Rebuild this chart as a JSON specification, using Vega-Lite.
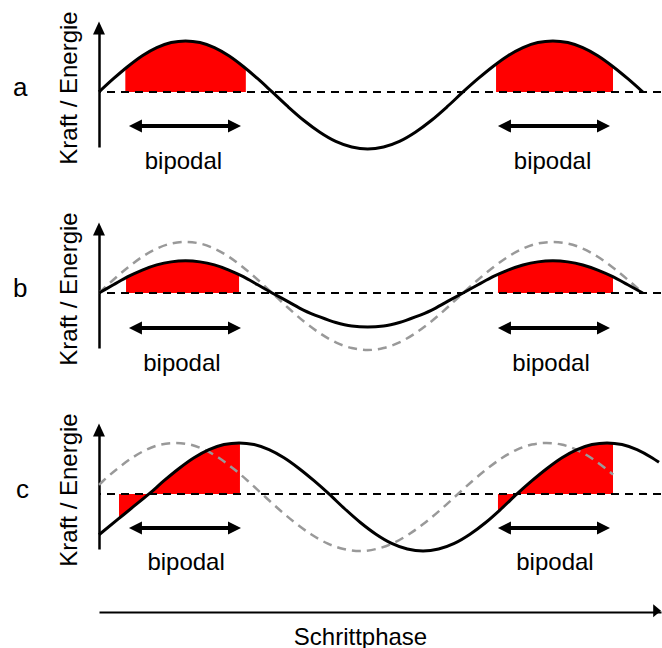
{
"$schema": "https://vega.github.io/schema/vega-lite/v6.json",
"padding": {"left": 13, "top": 10, "right": 0, "bottom": 0},
"config": {
  "font": "Liberation Sans",
  "view": {"stroke": null},
  "axisX": {"ticks": false, "labels": false, "grid": false, "domainColor": "#000", "domainWidth": 2, "offset": 63, "titleFontSize": 24, "titleFontWeight": "normal", "titleColor": "#000", "titlePadding": 13, "titleX": 261},
  "axisY": {"ticks": false, "labels": false, "grid": false, "domainColor": "#000", "domainWidth": 2.5, "titleFontSize": 24, "titleFontWeight": "normal", "titleColor": "#000", "titlePadding": 18}
},
"data": {"values": [
{"p":"a","k":"ax","x":0,"y":1.255},
{"p":"b","k":"ax","x":0,"y":1.255},
{"p":"c","k":"ax","x":0,"y":1.255},
{"p":"c","k":"xa","x":555,"y":-2.294},
{"p":"a","k":"arr","xl":36.0,"xr":133.8,"ya":-0.67,"xt":83.4,"yt":-1.51,"t":"bipodal"},
{"p":"a","k":"arr","xl":400.4,"xr":498.2,"ya":-0.67,"xt":447.9,"yt":-1.51,"t":"bipodal"},
{"p":"b","k":"arr","xl":36.0,"xr":133.8,"ya":-0.69,"xt":81.9,"yt":-1.53,"t":"bipodal"},
{"p":"b","k":"arr","xl":400.4,"xr":498.2,"ya":-0.69,"xt":446.4,"yt":-1.53,"t":"bipodal"},
{"p":"c","k":"arr","xl":36.0,"xr":133.8,"ya":-0.67,"xt":86.0,"yt":-1.49,"t":"bipodal"},
{"p":"c","k":"arr","xl":400.4,"xr":498.2,"ya":-0.67,"xt":450.3,"yt":-1.49,"t":"bipodal"},

{"p":"a","k":"s","x":0,"y":0},
{"p":"a","k":"s","x":14.25,"y":0.26},
{"p":"a","k":"s","x":28.5,"y":0.5},
{"p":"a","k":"s","x":42.75,"y":0.71},
{"p":"a","k":"s","x":57,"y":0.87},
{"p":"a","k":"s","x":71.25,"y":0.97},
{"p":"a","k":"s","x":85.5,"y":1},
{"p":"a","k":"s","x":99.75,"y":0.97},
{"p":"a","k":"s","x":114,"y":0.87},
{"p":"a","k":"s","x":128.25,"y":0.71},
{"p":"a","k":"s","x":142.5,"y":0.5},
{"p":"a","k":"s","x":156.75,"y":0.26},
{"p":"a","k":"s","x":171,"y":0},
{"p":"a","k":"s","x":186.7,"y":-0.29},
{"p":"a","k":"s","x":202.4,"y":-0.56},
{"p":"a","k":"s","x":218.1,"y":-0.79},
{"p":"a","k":"s","x":233.8,"y":-0.97},
{"p":"a","k":"s","x":249.6,"y":-1.08},
{"p":"a","k":"s","x":265.3,"y":-1.12},
{"p":"a","k":"s","x":281,"y":-1.08},
{"p":"a","k":"s","x":296.7,"y":-0.97},
{"p":"a","k":"s","x":312.4,"y":-0.79},
{"p":"a","k":"s","x":328.1,"y":-0.56},
{"p":"a","k":"s","x":343.8,"y":-0.29},
{"p":"a","k":"s","x":359.5,"y":0},
{"p":"a","k":"s","x":374.3,"y":0.26},
{"p":"a","k":"s","x":389.1,"y":0.5},
{"p":"a","k":"s","x":403.9,"y":0.71},
{"p":"a","k":"s","x":418.7,"y":0.87},
{"p":"a","k":"s","x":433.4,"y":0.97},
{"p":"a","k":"s","x":448.2,"y":1},
{"p":"a","k":"s","x":463,"y":0.97},
{"p":"a","k":"s","x":477.8,"y":0.87},
{"p":"a","k":"s","x":492.6,"y":0.71},
{"p":"a","k":"s","x":507.4,"y":0.5},
{"p":"a","k":"s","x":522.2,"y":0.26},
{"p":"a","k":"s","x":537,"y":0},

{"p":"b","k":"s","x":0,"y":0},
{"p":"b","k":"s","x":14.25,"y":0.16},
{"p":"b","k":"s","x":28.5,"y":0.32},
{"p":"b","k":"s","x":42.75,"y":0.45},
{"p":"b","k":"s","x":57,"y":0.55},
{"p":"b","k":"s","x":71.25,"y":0.61},
{"p":"b","k":"s","x":85.5,"y":0.63},
{"p":"b","k":"s","x":99.75,"y":0.61},
{"p":"b","k":"s","x":114,"y":0.55},
{"p":"b","k":"s","x":128.25,"y":0.45},
{"p":"b","k":"s","x":142.5,"y":0.32},
{"p":"b","k":"s","x":156.75,"y":0.16},
{"p":"b","k":"s","x":171,"y":0},
{"p":"b","k":"s","x":186.7,"y":-0.17},
{"p":"b","k":"s","x":202.4,"y":-0.34},
{"p":"b","k":"s","x":218.1,"y":-0.47},
{"p":"b","k":"s","x":233.8,"y":-0.58},
{"p":"b","k":"s","x":249.6,"y":-0.65},
{"p":"b","k":"s","x":265.3,"y":-0.67},
{"p":"b","k":"s","x":281,"y":-0.65},
{"p":"b","k":"s","x":296.7,"y":-0.58},
{"p":"b","k":"s","x":312.4,"y":-0.47},
{"p":"b","k":"s","x":328.1,"y":-0.34},
{"p":"b","k":"s","x":343.8,"y":-0.17},
{"p":"b","k":"s","x":359.5,"y":0},
{"p":"b","k":"s","x":374.3,"y":0.16},
{"p":"b","k":"s","x":389.1,"y":0.32},
{"p":"b","k":"s","x":403.9,"y":0.45},
{"p":"b","k":"s","x":418.7,"y":0.55},
{"p":"b","k":"s","x":433.4,"y":0.61},
{"p":"b","k":"s","x":448.2,"y":0.63},
{"p":"b","k":"s","x":463,"y":0.61},
{"p":"b","k":"s","x":477.8,"y":0.55},
{"p":"b","k":"s","x":492.6,"y":0.45},
{"p":"b","k":"s","x":507.4,"y":0.32},
{"p":"b","k":"s","x":522.2,"y":0.16},
{"p":"b","k":"s","x":537,"y":0},

{"p":"b","k":"g","x":0,"y":0},
{"p":"b","k":"g","x":14.25,"y":0.26},
{"p":"b","k":"g","x":28.5,"y":0.5},
{"p":"b","k":"g","x":42.75,"y":0.71},
{"p":"b","k":"g","x":57,"y":0.87},
{"p":"b","k":"g","x":71.25,"y":0.97},
{"p":"b","k":"g","x":85.5,"y":1},
{"p":"b","k":"g","x":99.75,"y":0.97},
{"p":"b","k":"g","x":114,"y":0.87},
{"p":"b","k":"g","x":128.25,"y":0.71},
{"p":"b","k":"g","x":142.5,"y":0.5},
{"p":"b","k":"g","x":156.75,"y":0.26},
{"p":"b","k":"g","x":171,"y":0},
{"p":"b","k":"g","x":186.7,"y":-0.29},
{"p":"b","k":"g","x":202.4,"y":-0.56},
{"p":"b","k":"g","x":218.1,"y":-0.79},
{"p":"b","k":"g","x":233.8,"y":-0.97},
{"p":"b","k":"g","x":249.6,"y":-1.08},
{"p":"b","k":"g","x":265.3,"y":-1.12},
{"p":"b","k":"g","x":281,"y":-1.08},
{"p":"b","k":"g","x":296.7,"y":-0.97},
{"p":"b","k":"g","x":312.4,"y":-0.79},
{"p":"b","k":"g","x":328.1,"y":-0.56},
{"p":"b","k":"g","x":343.8,"y":-0.29},
{"p":"b","k":"g","x":359.5,"y":0},
{"p":"b","k":"g","x":374.3,"y":0.26},
{"p":"b","k":"g","x":389.1,"y":0.5},
{"p":"b","k":"g","x":403.9,"y":0.71},
{"p":"b","k":"g","x":418.7,"y":0.87},
{"p":"b","k":"g","x":433.4,"y":0.97},
{"p":"b","k":"g","x":448.2,"y":1},
{"p":"b","k":"g","x":463,"y":0.97},
{"p":"b","k":"g","x":477.8,"y":0.87},
{"p":"b","k":"g","x":492.6,"y":0.71},
{"p":"b","k":"g","x":507.4,"y":0.5},
{"p":"b","k":"g","x":522.2,"y":0.26},
{"p":"b","k":"g","x":537,"y":0},

{"p":"c","k":"s","x":0,"y":-0.8},
{"p":"c","k":"s","x":18.5,"y":-0.5},
{"p":"c","k":"s","x":33.9,"y":-0.25},
{"p":"c","k":"s","x":49.4,"y":0},
{"p":"c","k":"s","x":64.2,"y":0.26},
{"p":"c","k":"s","x":79,"y":0.5},
{"p":"c","k":"s","x":93.8,"y":0.71},
{"p":"c","k":"s","x":108.6,"y":0.87},
{"p":"c","k":"s","x":123.4,"y":0.97},
{"p":"c","k":"s","x":138.3,"y":1},
{"p":"c","k":"s","x":153.1,"y":0.97},
{"p":"c","k":"s","x":167.9,"y":0.87},
{"p":"c","k":"s","x":182.7,"y":0.71},
{"p":"c","k":"s","x":197.5,"y":0.5},
{"p":"c","k":"s","x":212.3,"y":0.26},
{"p":"c","k":"s","x":227.1,"y":0},
{"p":"c","k":"s","x":242.6,"y":-0.29},
{"p":"c","k":"s","x":258.1,"y":-0.56},
{"p":"c","k":"s","x":273.5,"y":-0.79},
{"p":"c","k":"s","x":289,"y":-0.97},
{"p":"c","k":"s","x":304.5,"y":-1.08},
{"p":"c","k":"s","x":320,"y":-1.12},
{"p":"c","k":"s","x":335.4,"y":-1.08},
{"p":"c","k":"s","x":350.9,"y":-0.97},
{"p":"c","k":"s","x":366.4,"y":-0.79},
{"p":"c","k":"s","x":381.9,"y":-0.56},
{"p":"c","k":"s","x":397.3,"y":-0.29},
{"p":"c","k":"s","x":412.8,"y":0},
{"p":"c","k":"s","x":427.6,"y":0.26},
{"p":"c","k":"s","x":442.4,"y":0.5},
{"p":"c","k":"s","x":457.2,"y":0.71},
{"p":"c","k":"s","x":472,"y":0.87},
{"p":"c","k":"s","x":486.8,"y":0.97},
{"p":"c","k":"s","x":501.7,"y":1},
{"p":"c","k":"s","x":516.5,"y":0.97},
{"p":"c","k":"s","x":531.3,"y":0.87},
{"p":"c","k":"s","x":546.1,"y":0.71},
{"p":"c","k":"s","x":553,"y":0.62},

{"p":"c","k":"g","x":0,"y":0.18},
{"p":"c","k":"g","x":4.25,"y":0.26},
{"p":"c","k":"g","x":18.5,"y":0.5},
{"p":"c","k":"g","x":32.75,"y":0.71},
{"p":"c","k":"g","x":47,"y":0.87},
{"p":"c","k":"g","x":61.25,"y":0.97},
{"p":"c","k":"g","x":75.5,"y":1},
{"p":"c","k":"g","x":89.75,"y":0.97},
{"p":"c","k":"g","x":104,"y":0.87},
{"p":"c","k":"g","x":118.25,"y":0.71},
{"p":"c","k":"g","x":132.5,"y":0.5},
{"p":"c","k":"g","x":146.75,"y":0.26},
{"p":"c","k":"g","x":161,"y":0},
{"p":"c","k":"g","x":177.1,"y":-0.29},
{"p":"c","k":"g","x":193.25,"y":-0.56},
{"p":"c","k":"g","x":209.4,"y":-0.79},
{"p":"c","k":"g","x":225.5,"y":-0.97},
{"p":"c","k":"g","x":241.6,"y":-1.08},
{"p":"c","k":"g","x":257.75,"y":-1.12},
{"p":"c","k":"g","x":273.9,"y":-1.08},
{"p":"c","k":"g","x":290,"y":-0.97},
{"p":"c","k":"g","x":306.1,"y":-0.79},
{"p":"c","k":"g","x":322.25,"y":-0.56},
{"p":"c","k":"g","x":338.4,"y":-0.29},
{"p":"c","k":"g","x":354.5,"y":0},
{"p":"c","k":"g","x":369.1,"y":0.26},
{"p":"c","k":"g","x":383.7,"y":0.5},
{"p":"c","k":"g","x":398.3,"y":0.71},
{"p":"c","k":"g","x":412.8,"y":0.87},
{"p":"c","k":"g","x":427.4,"y":0.97},
{"p":"c","k":"g","x":442,"y":1},
{"p":"c","k":"g","x":456.6,"y":0.97},
{"p":"c","k":"g","x":471.2,"y":0.87},
{"p":"c","k":"g","x":485.8,"y":0.71},
{"p":"c","k":"g","x":500.3,"y":0.5},
{"p":"c","k":"g","x":507.6,"y":0.38},

{"p":"a","k":"r","seg":1,"x":26,"y":0.46},
{"p":"a","k":"r","seg":1,"x":28.5,"y":0.5},
{"p":"a","k":"r","seg":1,"x":42.75,"y":0.71},
{"p":"a","k":"r","seg":1,"x":57,"y":0.87},
{"p":"a","k":"r","seg":1,"x":71.25,"y":0.97},
{"p":"a","k":"r","seg":1,"x":85.5,"y":1},
{"p":"a","k":"r","seg":1,"x":99.75,"y":0.97},
{"p":"a","k":"r","seg":1,"x":114,"y":0.87},
{"p":"a","k":"r","seg":1,"x":128.25,"y":0.71},
{"p":"a","k":"r","seg":1,"x":142.5,"y":0.5},
{"p":"a","k":"r","seg":1,"x":145,"y":0.46},
{"p":"a","k":"r","seg":2,"x":392.1,"y":0.54},
{"p":"a","k":"r","seg":2,"x":403.9,"y":0.71},
{"p":"a","k":"r","seg":2,"x":418.7,"y":0.87},
{"p":"a","k":"r","seg":2,"x":433.4,"y":0.97},
{"p":"a","k":"r","seg":2,"x":448.2,"y":1},
{"p":"a","k":"r","seg":2,"x":463,"y":0.97},
{"p":"a","k":"r","seg":2,"x":477.8,"y":0.87},
{"p":"a","k":"r","seg":2,"x":492.6,"y":0.71},
{"p":"a","k":"r","seg":2,"x":507.6,"y":0.5},

{"p":"b","k":"r","seg":1,"x":26.7,"y":0.3},
{"p":"b","k":"r","seg":1,"x":42.75,"y":0.45},
{"p":"b","k":"r","seg":1,"x":57,"y":0.55},
{"p":"b","k":"r","seg":1,"x":71.25,"y":0.61},
{"p":"b","k":"r","seg":1,"x":85.5,"y":0.63},
{"p":"b","k":"r","seg":1,"x":99.75,"y":0.61},
{"p":"b","k":"r","seg":1,"x":114,"y":0.55},
{"p":"b","k":"r","seg":1,"x":128.25,"y":0.45},
{"p":"b","k":"r","seg":1,"x":138.3,"y":0.36},
{"p":"b","k":"r","seg":2,"x":394,"y":0.36},
{"p":"b","k":"r","seg":2,"x":403.9,"y":0.45},
{"p":"b","k":"r","seg":2,"x":418.7,"y":0.55},
{"p":"b","k":"r","seg":2,"x":433.4,"y":0.61},
{"p":"b","k":"r","seg":2,"x":448.2,"y":0.63},
{"p":"b","k":"r","seg":2,"x":463,"y":0.61},
{"p":"b","k":"r","seg":2,"x":477.8,"y":0.55},
{"p":"b","k":"r","seg":2,"x":492.6,"y":0.45},
{"p":"b","k":"r","seg":2,"x":507.6,"y":0.32},

{"p":"c","k":"r","seg":1,"x":19.75,"y":-0.48},
{"p":"c","k":"r","seg":1,"x":33.9,"y":-0.25},
{"p":"c","k":"r","seg":1,"x":49.4,"y":0},
{"p":"c","k":"r","seg":1,"x":64.2,"y":0.26},
{"p":"c","k":"r","seg":1,"x":79,"y":0.5},
{"p":"c","k":"r","seg":1,"x":93.8,"y":0.71},
{"p":"c","k":"r","seg":1,"x":108.6,"y":0.87},
{"p":"c","k":"r","seg":1,"x":123.4,"y":0.97},
{"p":"c","k":"r","seg":1,"x":138.3,"y":1},
{"p":"c","k":"r","seg":1,"x":139.2,"y":1},
{"p":"c","k":"r","seg":2,"x":394,"y":-0.35},
{"p":"c","k":"r","seg":2,"x":397.3,"y":-0.29},
{"p":"c","k":"r","seg":2,"x":412.8,"y":0},
{"p":"c","k":"r","seg":2,"x":427.6,"y":0.26},
{"p":"c","k":"r","seg":2,"x":442.4,"y":0.5},
{"p":"c","k":"r","seg":2,"x":457.2,"y":0.71},
{"p":"c","k":"r","seg":2,"x":472,"y":0.87},
{"p":"c","k":"r","seg":2,"x":486.8,"y":0.97},
{"p":"c","k":"r","seg":2,"x":501.7,"y":1},
{"p":"c","k":"r","seg":2,"x":507.6,"y":0.99}
]},
"facet": {"row": {"field": "p", "type": "nominal", "header": {"title": null, "labelAngle": 0, "labelAlign": "right", "labelBaseline": "middle", "labelFontSize": 26, "labelColor": "#000", "labelPadding": 15}}},
"spacing": {"row": 82},
"bounds": "flush",
"spec": {
  "width": 562,
  "height": 119,
  "layer": [
    {"transform": [{"filter": "datum.k === 'r'"}],
     "mark": {"type": "area", "color": "#ff0000", "opacity": 1, "interpolate": "monotone"},
     "encoding": {
       "x": {"field": "x", "type": "quantitative", "scale": {"domain": [0, 555], "nice": false, "zero": false}, "title": "Schrittphase"},
       "y": {"field": "y", "type": "quantitative", "scale": {"domain": [-1.08, 1.255], "nice": false, "zero": false}, "title": "Kraft / Energie"},
       "y2": {"datum": 0},
       "detail": {"field": "seg", "type": "nominal"}}},
    {"transform": [{"filter": "datum.k === 'ax'"}],
     "mark": {"type": "rule", "color": "#000", "strokeWidth": 2, "strokeDash": [8, 6]},
     "encoding": {
       "y": {"datum": 0, "type": "quantitative", "scale": {"domain": [-1.08, 1.255], "nice": false, "zero": false}, "title": "Kraft / Energie"}}},
    {"transform": [{"filter": "datum.k === 'g'"}],
     "mark": {"type": "line", "color": "#999999", "strokeWidth": 2.5, "strokeDash": [9, 6], "interpolate": "monotone"},
     "encoding": {
       "x": {"field": "x", "type": "quantitative", "scale": {"domain": [0, 555], "nice": false, "zero": false}, "title": "Schrittphase"},
       "y": {"field": "y", "type": "quantitative", "scale": {"domain": [-1.08, 1.255], "nice": false, "zero": false}, "title": "Kraft / Energie"}}},
    {"transform": [{"filter": "datum.k === 's'"}],
     "mark": {"type": "line", "color": "#000", "strokeWidth": 3, "interpolate": "monotone"},
     "encoding": {
       "x": {"field": "x", "type": "quantitative", "scale": {"domain": [0, 555], "nice": false, "zero": false}, "title": "Schrittphase"},
       "y": {"field": "y", "type": "quantitative", "scale": {"domain": [-1.08, 1.255], "nice": false, "zero": false}, "title": "Kraft / Energie"}}},
    {"transform": [{"filter": "datum.k === 'arr'"}],
     "mark": {"type": "rule", "color": "#000", "strokeWidth": 4},
     "encoding": {
       "x": {"field": "xl", "type": "quantitative", "scale": {"domain": [0, 555], "nice": false, "zero": false}, "title": "Schrittphase"},
       "x2": {"field": "xr", "title": "Schrittphase"},
       "y": {"field": "ya", "type": "quantitative", "scale": {"domain": [-1.08, 1.255], "nice": false, "zero": false}, "title": "Kraft / Energie"}}},
    {"transform": [{"filter": "datum.k === 'arr'"}],
     "mark": {"type": "point", "shape": "M-1,0L1,-1L1,1Z", "size": 169, "filled": true, "color": "#000", "opacity": 1, "strokeWidth": 0},
     "encoding": {
       "x": {"field": "xl", "type": "quantitative", "scale": {"domain": [0, 555], "nice": false, "zero": false}, "title": "Schrittphase"},
       "y": {"field": "ya", "type": "quantitative", "scale": {"domain": [-1.08, 1.255], "nice": false, "zero": false}, "title": "Kraft / Energie"}}},
    {"transform": [{"filter": "datum.k === 'arr'"}],
     "mark": {"type": "point", "shape": "M1,0L-1,-1L-1,1Z", "size": 169, "filled": true, "color": "#000", "opacity": 1, "strokeWidth": 0},
     "encoding": {
       "x": {"field": "xr", "type": "quantitative", "scale": {"domain": [0, 555], "nice": false, "zero": false}, "title": "Schrittphase"},
       "y": {"field": "ya", "type": "quantitative", "scale": {"domain": [-1.08, 1.255], "nice": false, "zero": false}, "title": "Kraft / Energie"}}},
    {"transform": [{"filter": "datum.k === 'arr'"}],
     "mark": {"type": "text", "fontSize": 24, "color": "#000", "align": "center", "baseline": "alphabetic"},
     "encoding": {
       "x": {"field": "xt", "type": "quantitative", "scale": {"domain": [0, 555], "nice": false, "zero": false}, "title": "Schrittphase"},
       "y": {"field": "yt", "type": "quantitative", "scale": {"domain": [-1.08, 1.255], "nice": false, "zero": false}, "title": "Kraft / Energie"},
       "text": {"field": "t", "type": "nominal"}}},
    {"transform": [{"filter": "datum.k === 'ax'"}],
     "mark": {"type": "point", "shape": "M0,-1L0.92,1L-0.92,1Z", "size": 169, "filled": true, "color": "#000", "opacity": 1, "strokeWidth": 0},
     "encoding": {
       "x": {"field": "x", "type": "quantitative", "scale": {"domain": [0, 555], "nice": false, "zero": false}, "title": "Schrittphase"},
       "y": {"field": "y", "type": "quantitative", "scale": {"domain": [-1.08, 1.255], "nice": false, "zero": false}, "title": "Kraft / Energie"}}},
    {"transform": [{"filter": "datum.k === 'xa'"}],
     "mark": {"type": "point", "shape": "M0,0L-1.2,-1L-1.2,1Z", "size": 169, "filled": true, "color": "#000", "opacity": 1, "strokeWidth": 0},
     "encoding": {
       "x": {"field": "x", "type": "quantitative", "scale": {"domain": [0, 555], "nice": false, "zero": false}, "title": "Schrittphase"},
       "y": {"field": "y", "type": "quantitative", "scale": {"domain": [-1.08, 1.255], "nice": false, "zero": false}, "title": "Kraft / Energie"}}}
  ]
}
}
